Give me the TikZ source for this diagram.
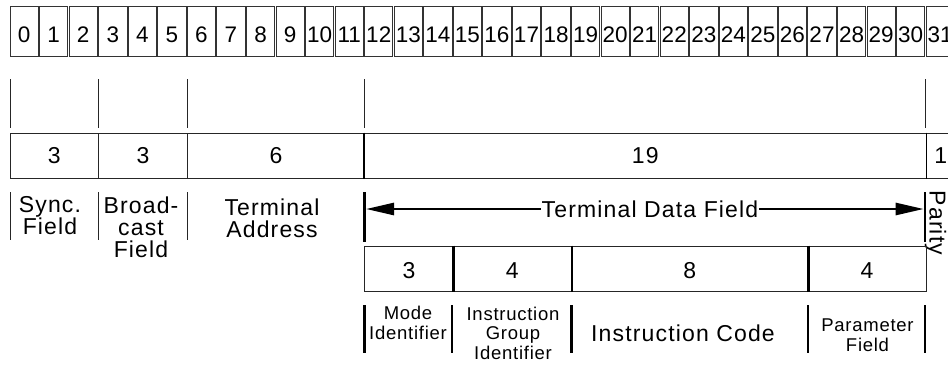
\documentclass[tikz,border=0pt]{standalone}
\usepackage{fontspec}
\setmainfont{Liberation Sans}
\newfontfamily\fieldfont{Liberation Sans}[LetterSpace=5]
\newfontfamily\notefont{Liberation Sans}[LetterSpace=4]
\usetikzlibrary{arrows.meta}

\begin{document}
\begin{tikzpicture}[x=1pt,y=-1pt,
  big/.style={font=\fieldfont\fontsize{23}{22}\selectfont, align=center, inner sep=1pt},
  small/.style={font=\notefont\fontsize{18.5}{19.5}\selectfont, align=center, inner sep=1pt},
  bitbox/.style={draw=black!80, line width=0.9pt, minimum width=28.3pt, minimum height=50pt,
                 inner sep=0pt, text height=21pt, text depth=0pt,
                 font=\rmfamily\fontsize{22.5}{22}\selectfont},
  fieldbox/.style={draw=black!85, line width=1pt, minimum height=45pt, inner sep=0pt,
                   font=\fieldfont\fontsize{23}{22}\selectfont},
  subbox/.style={fieldbox, text height=20pt, text depth=0pt},
  tick/.style={draw=black!85, line width=1pt},
  bar/.style={draw=black, line width=2.6pt},
  tdfarrow/.style={draw=black, line width=2.6pt, -{Triangle[length=28pt,width=12pt]}}
]
\useasboundingbox (0,0) rectangle (948,368);
\clip (0,0) rectangle (948,368);

% bit numbers 0..31
\foreach \i in {0,...,31}
  \node[bitbox] (bit\i) at ({10+\i*29.55+14.15},31.7) {\i};

% field boundary ticks below the bit row
\foreach \x in {10,98.65,187.3,364.6,925.3}
  \draw[tick] (\x,79) -- (\x,128);

% field widths
\node[fieldbox, minimum width=88.65pt]  (wsync)  at (54.325,155.5)  {3};
\node[fieldbox, minimum width=88.65pt]  (wbcast) at (142.975,155.5) {3};
\node[fieldbox, minimum width=177.3pt]  (waddr)  at (275.95,155.5)  {6};
\node[fieldbox, minimum width=561.45pt] (wdata)  at (645.325,155.5) {19};
\node[fieldbox, minimum width=29.55pt]  (wpar)   at (940.825,155.5) {1};
\draw[draw=black, line width=1.5pt] (wdata.north west) -- (wdata.south west);
\draw[draw=black, line width=1.5pt] (wdata.north east) -- (wdata.south east);

% field names
\foreach \x in {10,98.65,187.3}
  \draw[tick] (\x,192) -- (\x,240);
\node[big] (nsync)  at (50,216)  {Sync.\\Field};
\node[big] (nbcast) at (141,227) {Broad-\\cast\\Field};
\node[big] (naddr)  at (272,218) {Terminal\\Address};

% terminal data field span
\draw[bar] (364.6,192) -- (364.6,242);
\draw[bar] (925,192) -- (925,242);
\coordinate (tdfL) at (366,209);
\coordinate (tdfR) at (923.7,209);
\node[big, fill=white] (tdf) at (650,209) {Terminal Data Field};
\draw[tdfarrow] (tdf.west) -- (tdfL);
\draw[tdfarrow] (tdf.east) -- (tdfR);
\node[big, rotate=-90] (parity) at (935.5,223) {Parity};

% subfields of the data field
\node[subbox, minimum width=88.65pt] (smode)  at (408.925,268.5) {3};
\node[subbox, minimum width=118.2pt] (sgroup) at (512.35,268.5)  {4};
\node[subbox, minimum width=236.4pt] (scode)  at (689.65,268.5)  {8};
\node[subbox, minimum width=118.2pt] (sparam) at (866.95,268.5)  {4};
\foreach \n in {smode,sgroup,scode}
  \draw[bar] (\n.north east) -- (\n.south east);

% subfield names
\foreach \x in {364.6,452,571.45,807.85,925}
  \draw[bar] (\x,305) -- (\x,353);
\node[small] (lmode)  at (408,323)   {Mode\\Identifier};
\node[small] (lgroup) at (513,333)   {Instruction\\Group\\Identifier};
\node[big]   (lcode)  at (683,333)   {Instruction Code};
\node[small] (lparam) at (867.5,335) {Parameter\\Field};
\end{tikzpicture}
\end{document}
